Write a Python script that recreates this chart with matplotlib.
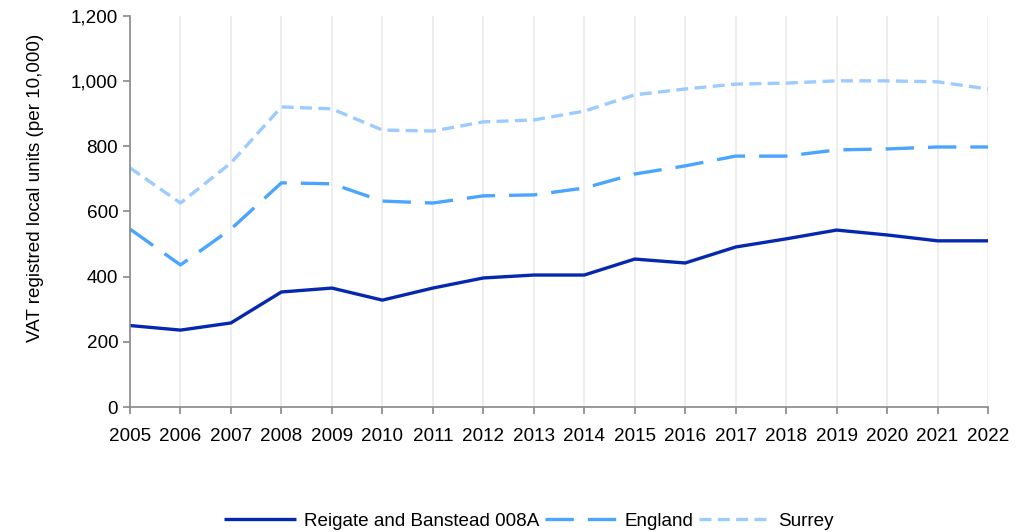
import numpy as np
import matplotlib
matplotlib.use("Agg")
import matplotlib.pyplot as plt
from matplotlib.ticker import FuncFormatter

            #### DATA ####

years = list(range(2005, 2023))
reigate = [250, 236, 258, 353, 365, 328, 365, 396, 405, 405,
           454, 442, 491, 516, 543, 528, 510, 510]
england = [546, 436, 546, 688, 685, 632, 626, 648, 651, 672,
           715, 740, 770, 770, 789, 792, 798, 798]
surrey = [734, 626, 749, 921, 915, 850, 847, 875, 881, 908,
          958, 976, 991, 994, 1001, 1001, 998, 976]

            #### PLOT ####

plt.rcParams['font.family'] = ['Liberation Sans', 'DejaVu Sans']
fs = 13.6                                           # shared text size

fig = plt.figure(figsize=(10.27, 5.32), dpi=100)
ax = fig.add_axes([130/1027, 1-407/532, (988-130)/1027, (407-16)/532])

ax.plot(years, reigate, color='#0628AE', lw=2.4, solid_capstyle='butt',
        label='Reigate and Banstead 008A')
ax.plot(years, england, color='#4BA5FF', lw=2.4, dashes=(8.5, 4.2),
        label='England')
ax.plot(years, surrey, color='#9CCBFF', lw=2.4, dashes=(3.6, 1.9),
        label='Surrey')

ax.set_xlim(2005, 2022)
ax.set_ylim(0, 1200)
ax.set_xticks(years)
ax.set_yticks(np.arange(0, 1201, 200))
ax.yaxis.set_major_formatter(FuncFormatter(lambda v, p: f"{int(v):,}"))
ax.tick_params(axis='both', labelsize=fs, colors='#888888',
               labelcolor='black', length=5, width=1.2)
ax.tick_params(axis='x', pad=10)
ax.grid(axis='x', color='#EBEBEB', lw=1.2)
ax.set_axisbelow(True)
for side in ['top', 'right']:
    ax.spines[side].set_visible(False)
for side in ['left', 'bottom']:
    ax.spines[side].set_color('#888888')
    ax.spines[side].set_linewidth(1.2)

ax.set_ylabel('VAT registred local units (per 10,000)', fontsize=fs)
ax.yaxis.set_label_coords(-0.1, 0.56)

fig.legend(loc='center', bbox_to_anchor=(529/1027, 1-521/532), ncol=3,
           frameon=False, fontsize=fs, handlelength=3.8,
           handletextpad=0.42, columnspacing=0.3)

plt.savefig('out.png', dpi=100)
